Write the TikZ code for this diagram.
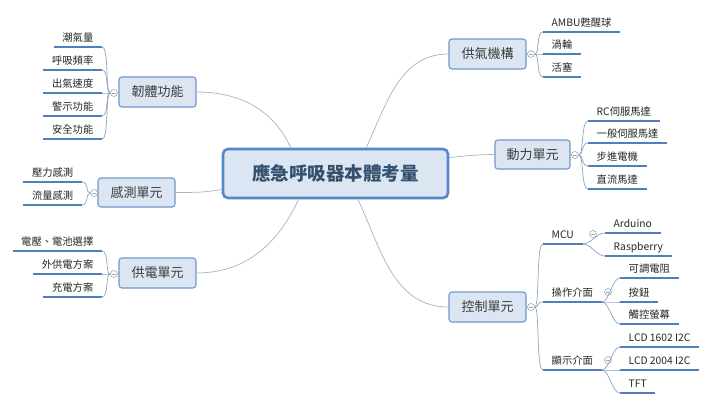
\documentclass[tikz,border=0pt]{standalone}
\usepackage{fontspec}
\setmainfont{Noto Sans CJK TC}
\definecolor{boxfill}{HTML}{DCE6F2}
\definecolor{boxline}{HTML}{6F98CC}
\definecolor{cenline}{HTML}{5588C8}
\definecolor{centext}{HTML}{34506F}
\definecolor{boxtext}{HTML}{3C3C3C}
\definecolor{leaftext}{HTML}{262626}
\definecolor{ulcol}{HTML}{4F7FBF}
\definecolor{conncol}{HTML}{A3B3C8}
\definecolor{brcol}{HTML}{8EA4C0}
\definecolor{mkcol}{HTML}{9AA8B8}
\begin{document}
\begin{tikzpicture}[x=1pt,y=1pt,
  topic/.style={draw=boxline, fill=boxfill, line width=1.1pt, rounded corners=3pt,
    minimum width=77pt, minimum height=30pt, inner sep=0pt, text=boxtext,
    font=\fontsize{13}{15}\selectfont},
  central/.style={draw=cenline, fill=boxfill, line width=2.6pt, rounded corners=5pt,
    minimum width=225pt, minimum height=49pt, inner sep=0pt, text=centext,
    font=\fontsize{18.5}{22}\selectfont\bfseries},
  leaf/.style={inner xsep=8.5pt, inner ysep=3.5pt, text height=8.7pt, text depth=1.5pt,
    text=leaftext, font=\fontsize{10.3}{12}\selectfont},
  leafL/.style={leaf, anchor=south east},
  leafR/.style={leaf, anchor=south west},
  uline/.style={draw=ulcol, line width=1.8pt},
  connline/.style={draw=conncol, line width=0.7pt},
  branch/.style={draw=brcol, line width=0.7pt},
  marker/.style={circle, draw=mkcol, fill=white, line width=0.6pt, minimum size=7pt,
    inner sep=0pt, path picture={\draw[mkcol, line width=0.6pt]
      ([xshift=-2pt]path picture bounding box.center) --
      ([xshift=2pt]path picture bounding box.center);}}
]
\fill[white] (0,0) rectangle (720,405);
\useasboundingbox (0,0) rectangle (720,405);

% central and main topics
\node[central] (c) at (335.5,231.5) {應急呼吸器本體考量};
\node[topic] (fw) at (157.5,313) {韌體功能};
\node[topic, minimum height=29pt] (se) at (136.5,212.5) {感測單元};
\node[topic] (pw) at (157.5,132) {供電單元};
\node[topic] (ai) at (487.5,351) {供氣機構};
\node[topic, minimum width=75pt, minimum height=29pt] (mo) at (532.5,250.5) {動力單元};
\node[topic] (ct) at (487.5,98) {控制單元};

% main connectors
\draw[connline] (fw.east) to[out=0,in=115] (c.150);
\draw[connline] (se.east) to[out=0,in=190] (c.188);
\draw[connline] (pw.east) to[out=0,in=-115] (c.215);
\draw[connline] (ai.west) to[out=180,in=65] (c.40);
\draw[connline] (mo.west) to[out=180,in=5] (c.8);
\draw[connline] (ct.west) to[out=180,in=-65] (c.-49);

% leaves: firmware
\node[leafL] (f1) at (102,358) {潮氣量};
\node[leafL] (f2) at (102,335) {呼吸頻率};
\node[leafL] (f3) at (102,312) {出氣速度};
\node[leafL] (f4) at (102,289) {警示功能};
\node[leafL] (f5) at (102,266) {安全功能};
% sensing
\node[leafL] (s1) at (82,223) {壓力感測};
\node[leafL] (s2) at (82,200) {流量感測};
% power
\node[leafL] (p1) at (102,154) {電壓、電池選擇};
\node[leafL] (p2) at (102,131) {外供電方案};
\node[leafL] (p3) at (102,108) {充電方案};
% air supply
\node[leafR] (a1) at (543,373) {AMBU甦醒球};
\node[leafR] (a2) at (543,351) {渦輪};
\node[leafR] (a3) at (543,328) {活塞};
% motor
\node[leafR] (m1) at (588,284) {RC伺服馬達};
\node[leafR] (m2) at (588,262) {一般伺服馬達};
\node[leafR] (m3) at (588,239) {步進電機};
\node[leafR] (m4) at (588,216) {直流馬達};
% control
\node[leafR] (k1) at (543,161) {MCU};
\node[leafR] (k2) at (543,103) {操作介面};
\node[leafR] (k3) at (543,35) {顯示介面};
\node[leafR] (k11) at (605,172) {Arduino};
\node[leafR] (k12) at (605,149) {Raspberry};
\node[leafR] (k21) at (620,127) {可調電阻};
\node[leafR] (k22) at (620,103) {按鈕};
\node[leafR] (k23) at (620,81) {觸控螢幕};
\node[leafR] (k31) at (620,58) {LCD 1602 I2C};
\node[leafR] (k32) at (620,35) {LCD 2004 I2C};
\node[leafR] (k33) at (620,12) {TFT};

% markers
\node[marker] (mfw) at (114,312) {};
\node[marker] (mse) at (94,212) {};
\node[marker] (mpw) at (114,131) {};
\node[marker] (mai) at (531,351) {};
\node[marker] (mmo) at (575,250) {};
\node[marker] (mct) at (531,98) {};
\node[marker] (mk1) at (593,171) {};
\node[marker] (mk2) at (608,113) {};
\node[marker] (mk3) at (608,45) {};

% box to marker
\draw[branch] (fw.west) -- (mfw.east);
\draw[branch] (se.west) -- (mse.east);
\draw[branch] (pw.west) -- (mpw.east);
\draw[branch] (ai.east) -- (mai.west);
\draw[branch] (mo.east) -- (mmo.west);
\draw[branch] (ct.east) -- (mct.west);

% branches
\foreach \n in {f1,f2,f3,f4,f5}
  \draw[branch] (mfw.west) to[out=180,in=0,out distance=5pt,in distance=7pt] (\n.south east);
\foreach \n in {s1,s2}
  \draw[branch] (mse.west) to[out=180,in=0,out distance=5pt,in distance=7pt] (\n.south east);
\foreach \n in {p1,p2,p3}
  \draw[branch] (mpw.west) to[out=180,in=0,out distance=5pt,in distance=7pt] (\n.south east);
\foreach \n in {a1,a2,a3}
  \draw[branch] (mai.east) to[out=0,in=180,out distance=5pt,in distance=7pt] (\n.south west);
\foreach \n in {m1,m2,m3,m4}
  \draw[branch] (mmo.east) to[out=0,in=180,out distance=5pt,in distance=7pt] (\n.south west);
\foreach \n in {k1,k2,k3}
  \draw[branch] (mct.east) to[out=0,in=180,out distance=5pt,in distance=7pt] (\n.south west);
\foreach \n in {k11,k12}
  \draw[branch] (k1.south east) to[out=0,in=180,out distance=8pt,in distance=8pt] (\n.south west);
\foreach \n in {k21,k22,k23}
  \draw[branch] (k2.south east) to[out=0,in=180,out distance=8pt,in distance=8pt] (\n.south west);
\foreach \n in {k31,k32,k33}
  \draw[branch] (k3.south east) to[out=0,in=180,out distance=8pt,in distance=8pt] (\n.south west);

% underlines
\foreach \n in {f1,f2,f3,f4,f5,s1,s2,p1,p2,p3}
  \draw[uline] (\n.south west) -- (\n.south east);
\foreach \n in {a1,a2,a3,m1,m2,m3,m4,k1,k2,k3,k11,k12,k21,k22,k23,k31,k32,k33}
  \draw[uline] (\n.south west) -- (\n.south east);
\end{tikzpicture}
\end{document}
